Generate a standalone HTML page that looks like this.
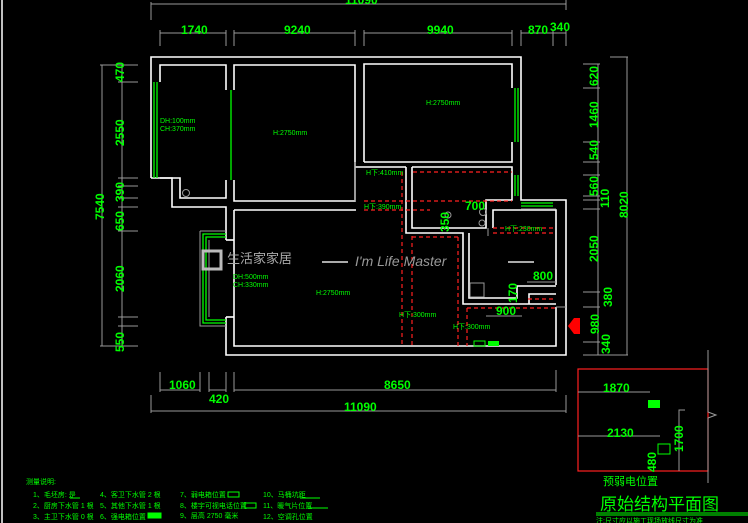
<!DOCTYPE html>
<html><head><meta charset="utf-8"><style>
html,body{margin:0;padding:0;background:#000;}
svg{display:block;}
text{font-family:"Liberation Sans","Noto Sans CJK SC",sans-serif;}
.d{fill:#00ff00;font-size:12px;font-weight:bold;}
.s{fill:#00ff00;font-size:7px;}
.w{stroke:#fff;stroke-width:1.6;fill:none;}
.g{stroke:#999;stroke-width:1;fill:none;}
.gr{stroke:#00ff00;stroke-width:1.3;fill:none;}
.r{stroke:#ff2020;stroke-width:1.2;fill:none;stroke-dasharray:4 3;}
</style></head><body>
<svg width="748" height="523" viewBox="0 0 748 523" xmlns="http://www.w3.org/2000/svg">
<rect width="748" height="523" fill="#000"/>
<line x1="2" y1="0" x2="2" y2="523" stroke="#fff" stroke-width="1.5"/>

<!-- top dims -->
<g class="g">
<line x1="151" y1="4" x2="566" y2="4"/><line x1="151" y1="2" x2="151" y2="20"/><line x1="566" y1="0" x2="566" y2="10"/>
<line x1="160" y1="33" x2="226" y2="33"/><line x1="234" y1="33" x2="355" y2="33"/><line x1="364" y1="33" x2="512" y2="33"/><line x1="521" y1="33" x2="566" y2="33"/>
<line x1="160" y1="30" x2="160" y2="46"/><line x1="226" y1="30" x2="226" y2="46"/><line x1="234" y1="30" x2="234" y2="46"/><line x1="355" y1="30" x2="355" y2="46"/><line x1="364" y1="30" x2="364" y2="46"/><line x1="512" y1="30" x2="512" y2="46"/><line x1="521" y1="30" x2="521" y2="46"/><line x1="553" y1="30" x2="553" y2="46"/><line x1="566" y1="30" x2="566" y2="46"/>
</g>
<text class="d" x="345" y="4">11090</text>
<text class="d" x="181" y="34">1740</text>
<text class="d" x="284" y="34">9240</text>
<text class="d" x="427" y="34">9940</text>
<text class="d" x="528" y="34">870</text>
<text class="d" x="550" y="31">340</text>

<!-- left dims -->
<g class="g">
<line x1="102" y1="65" x2="102" y2="346"/><line x1="122" y1="65" x2="122" y2="346"/>
<line x1="100" y1="65" x2="138" y2="65"/><line x1="118" y1="82" x2="138" y2="82"/><line x1="118" y1="178" x2="138" y2="178"/><line x1="118" y1="186" x2="138" y2="186"/><line x1="118" y1="198" x2="138" y2="198"/><line x1="118" y1="207" x2="138" y2="207"/><line x1="118" y1="231" x2="138" y2="231"/><line x1="118" y1="317" x2="138" y2="317"/><line x1="118" y1="326" x2="138" y2="326"/><line x1="100" y1="346" x2="138" y2="346"/>
</g>
<g class="d">
<text transform="translate(124,82) rotate(-90)">470</text>
<text transform="translate(124,146) rotate(-90)">2550</text>
<text transform="translate(124,202) rotate(-90)">390</text>
<text transform="translate(124,231) rotate(-90)">650</text>
<text transform="translate(104,220) rotate(-90)">7540</text>
<text transform="translate(124,292) rotate(-90)">2060</text>
<text transform="translate(124,352) rotate(-90)">550</text>
</g>

<!-- right dims -->
<g class="g">
<line x1="598" y1="64" x2="598" y2="355"/><line x1="627" y1="57" x2="627" y2="355"/>
<line x1="610" y1="57" x2="628" y2="57"/>
<line x1="583" y1="64" x2="600" y2="64"/><line x1="583" y1="88" x2="600" y2="88"/><line x1="583" y1="142" x2="600" y2="142"/><line x1="583" y1="162" x2="600" y2="162"/><line x1="583" y1="175" x2="600" y2="175"/><line x1="583" y1="196" x2="600" y2="196"/><line x1="583" y1="200" x2="600" y2="200"/><line x1="583" y1="209" x2="600" y2="209"/><line x1="583" y1="292" x2="600" y2="292"/><line x1="583" y1="307" x2="600" y2="307"/><line x1="583" y1="342" x2="600" y2="342"/><line x1="583" y1="355" x2="628" y2="355"/>
</g>
<g class="d">
<text transform="translate(598,86) rotate(-90)">620</text>
<text transform="translate(598,128) rotate(-90)">1460</text>
<text transform="translate(598,160) rotate(-90)">540</text>
<text transform="translate(598,196) rotate(-90)">560</text>
<text transform="translate(609,208) rotate(-90)">110</text>
<text transform="translate(628,218) rotate(-90)">8020</text>
<text transform="translate(598,262) rotate(-90)">2050</text>
<text transform="translate(612,307) rotate(-90)">380</text>
<text transform="translate(599,334) rotate(-90)">980</text>
<text transform="translate(610,354) rotate(-90)">340</text>
</g>

<!-- bottom dims -->
<g class="g">
<line x1="160" y1="390" x2="200" y2="390"/><line x1="209" y1="390" x2="226" y2="390"/><line x1="234" y1="390" x2="556" y2="390"/>
<line x1="151" y1="411" x2="566" y2="411"/>
<line x1="160" y1="372" x2="160" y2="392"/><line x1="200" y1="372" x2="200" y2="392"/><line x1="209" y1="372" x2="209" y2="392"/><line x1="226" y1="372" x2="226" y2="392"/><line x1="234" y1="372" x2="234" y2="392"/><line x1="556" y1="370" x2="556" y2="392"/><line x1="151" y1="395" x2="151" y2="413"/><line x1="566" y1="395" x2="566" y2="413"/>
</g>
<text class="d" x="169" y="389">1060</text>
<text class="d" x="209" y="403">420</text>
<text class="d" x="384" y="389">8650</text>
<text class="d" x="344" y="411">11090</text>

<!-- walls -->
<g class="w">
<polyline points="151,178 151,57 521,57 521,200 566,200 566,355 226,355 226,317"/>
<polyline points="226,240 226,207 172,207 172,178 151,178"/>
<polyline points="160,82 160,65 226,65 226,90"/>
<polyline points="160,178 180,178 180,198 226,198 226,180"/>
<polyline points="234,90 234,65 355,65 355,201 234,201 234,180"/>
<polyline points="364,162 364,64 512,64 512,88"/>
<polyline points="512,142 512,162 364,162"/>
<polyline points="234,210 356,210"/>
<polyline points="234,210 234,346 556,346 556,307"/>
<polyline points="234,240 226,240"/><polyline points="234,317 226,317"/>
<polyline points="406,167 406,233 463,233 463,304 556,304"/>
<polyline points="412,167 512,167 512,200 486,200 486,228 412,228 412,167"/>
<polyline points="469,233 469,298 517,298 517,286 556,286"/>
<polyline points="493,228 493,210 556,210 556,285"/>
<polyline points="529,304 529,294 556,294"/>
<polyline points="355,167 406,167"/>
</g>
<g class="g">
<polyline points="200,231 200,326 226,326"/><polyline points="200,231 226,231"/>
<polyline points="209,240 209,317"/>
<line x1="556" y1="307" x2="566" y2="307"/>
<line x1="355" y1="162" x2="355" y2="201"/>
<rect x="470" y="283" width="14" height="14"/>
<circle cx="186" cy="193" r="3.5"/>
<circle cx="483" cy="212" r="3.5"/><circle cx="448" cy="215" r="3"/><circle cx="482" cy="223" r="3"/>
<line x1="521" y1="209" x2="556" y2="209"/>
</g>
<!-- windows -->
<g class="gr">
<line x1="154" y1="82" x2="154" y2="178"/><line x1="157" y1="82" x2="157" y2="178"/>
<line x1="231" y1="90" x2="231" y2="180"/>
<line x1="515" y1="88" x2="515" y2="142"/><line x1="518" y1="88" x2="518" y2="142"/>
<line x1="515" y1="175" x2="515" y2="196"/><line x1="518" y1="175" x2="518" y2="196"/>
<line x1="521" y1="203" x2="553" y2="203"/><line x1="521" y1="206" x2="553" y2="206"/>
<polyline points="226,234 203,234 203,323 226,323"/>
<polyline points="226,237 206,237 206,320 226,320"/>
</g>
<!-- red dashed -->
<g class="r">
<line x1="413" y1="172" x2="512" y2="172"/>
<line x1="364" y1="201" x2="512" y2="201"/>
<line x1="364" y1="210" x2="430" y2="210"/>
<line x1="402" y1="172" x2="402" y2="346"/>
<line x1="412" y1="236" x2="412" y2="346"/>
<line x1="412" y1="237" x2="458" y2="237"/>
<line x1="458" y1="237" x2="458" y2="346"/>
<line x1="493" y1="228" x2="556" y2="228"/>
<line x1="493" y1="233" x2="556" y2="233"/>
<line x1="467" y1="308" x2="467" y2="346"/>
<line x1="467" y1="308" x2="556" y2="308"/>
<line x1="528" y1="299" x2="556" y2="299"/>
</g>
<polygon points="568,326 574,318 580,318 580,334 574,334" fill="#ff0000"/>

<!-- room labels -->
<text class="s" x="160" y="123">DH:100mm</text>
<text class="s" x="160" y="131">CH:370mm</text>
<text class="s" x="273" y="135">H:2750mm</text>
<text class="s" x="426" y="105">H:2750mm</text>
<text class="s" x="366" y="175">H下:410mm</text>
<text class="s" x="364" y="209">H下:390mm</text>
<text class="s" x="505" y="231">H下:230mm</text>
<text class="s" x="233" y="279">DH:500mm</text>
<text class="s" x="233" y="287">CH:330mm</text>
<text class="s" x="316" y="295">H:2750mm</text>
<text class="s" x="399" y="317">H下:300mm</text>
<text class="s" x="453" y="329">H下:300mm</text>
<text class="d" x="465" y="210">700</text>
<text class="d" transform="translate(449,232) rotate(-90)">350</text>
<text class="d" x="533" y="280">800</text>
<text class="d" transform="translate(517,303) rotate(-90)">170</text>
<text class="d" x="496" y="315">900</text>
<g class="g"><line x1="527" y1="282" x2="556" y2="282"/><line x1="486" y1="316" x2="522" y2="316"/><line x1="488" y1="228" x2="488" y2="236"/></g>
<rect x="474" y="341" width="11" height="5" fill="none" stroke="#00ff00"/>
<rect x="488" y="341" width="11" height="5" fill="#00ff00"/>

<!-- watermark -->
<rect x="203" y="251" width="18" height="18" fill="none" stroke="#bbb" stroke-width="3"/>
<text x="227" y="263" fill="#aaa" font-size="13" font-family="Noto Sans CJK SC,sans-serif">生活家家居</text>
<line x1="322" y1="262" x2="348" y2="262" stroke="#aaa" stroke-width="2"/>
<line x1="508" y1="262" x2="534" y2="262" stroke="#aaa" stroke-width="2"/>
<text x="355" y="266" fill="#999" font-size="14" font-style="italic" font-family="Liberation Serif,serif">I'm Life Master</text>

<!-- bottom right box -->
<rect x="578" y="369" width="130" height="102" fill="none" stroke="#ff2020" stroke-width="1.2"/>
<g class="g">
<polyline points="708,350 708,412 716,415 708,418 708,483"/>
<line x1="578" y1="392" x2="650" y2="392"/><line x1="578" y1="436" x2="660" y2="436"/>
<polyline points="685,410 679,410 679,471"/>
</g>
<text class="d" x="603" y="392">1870</text>
<text class="d" x="607" y="437">2130</text>
<text class="d" transform="translate(683,452) rotate(-90)">1700</text>
<text class="d" transform="translate(656,472) rotate(-90)">480</text>
<rect x="648" y="400" width="12" height="8" fill="#00ff00"/>
<rect x="658" y="444" width="12" height="10" fill="none" stroke="#00ff00"/>
<text x="603" y="485" fill="#00ff00" font-size="11">预弱电位置</text>
<text x="600" y="510" fill="#00ff00" font-size="17">原始结构平面图</text>
<line x1="596" y1="513" x2="748" y2="513" stroke="#00ff00" stroke-width="1"/>
<line x1="596" y1="515" x2="748" y2="515" stroke="#00ff00" stroke-width="1"/>
<text x="596" y="523" fill="#00ff00" font-size="7">注:尺寸应以施工现场放线尺寸为准</text>

<!-- legend -->
<g fill="#00ff00" font-size="7">
<text x="26" y="484">测量说明:</text>
<text x="33" y="497">1、毛坯房: 是</text>
<text x="33" y="508">2、厨房下水管 1 根</text>
<text x="33" y="519">3、主卫下水管 0 根</text>
<text x="100" y="497">4、客卫下水管 2 根</text>
<text x="100" y="508">5、其他下水管 1 根</text>
<text x="100" y="519">6、强电箱位置</text>
<text x="180" y="497">7、弱电箱位置</text>
<text x="180" y="508">8、楼宇可视电话位置</text>
<text x="180" y="518">9、层高 2750 毫米</text>
<text x="263" y="497">10、马桶坑距</text>
<text x="263" y="508">11、暖气片位置</text>
<text x="263" y="519">12、空调孔位置</text>
</g>
<g stroke="#00ff00" fill="none"><line x1="70" y1="498" x2="80" y2="498"/><rect x="228" y="492" width="11" height="5"/><rect x="245" y="503" width="11" height="5"/><rect x="148" y="513" width="13" height="5" fill="#00ff00"/><line x1="300" y1="498" x2="320" y2="498"/><line x1="308" y1="508" x2="328" y2="508"/></g>
</svg>
</body></html>
